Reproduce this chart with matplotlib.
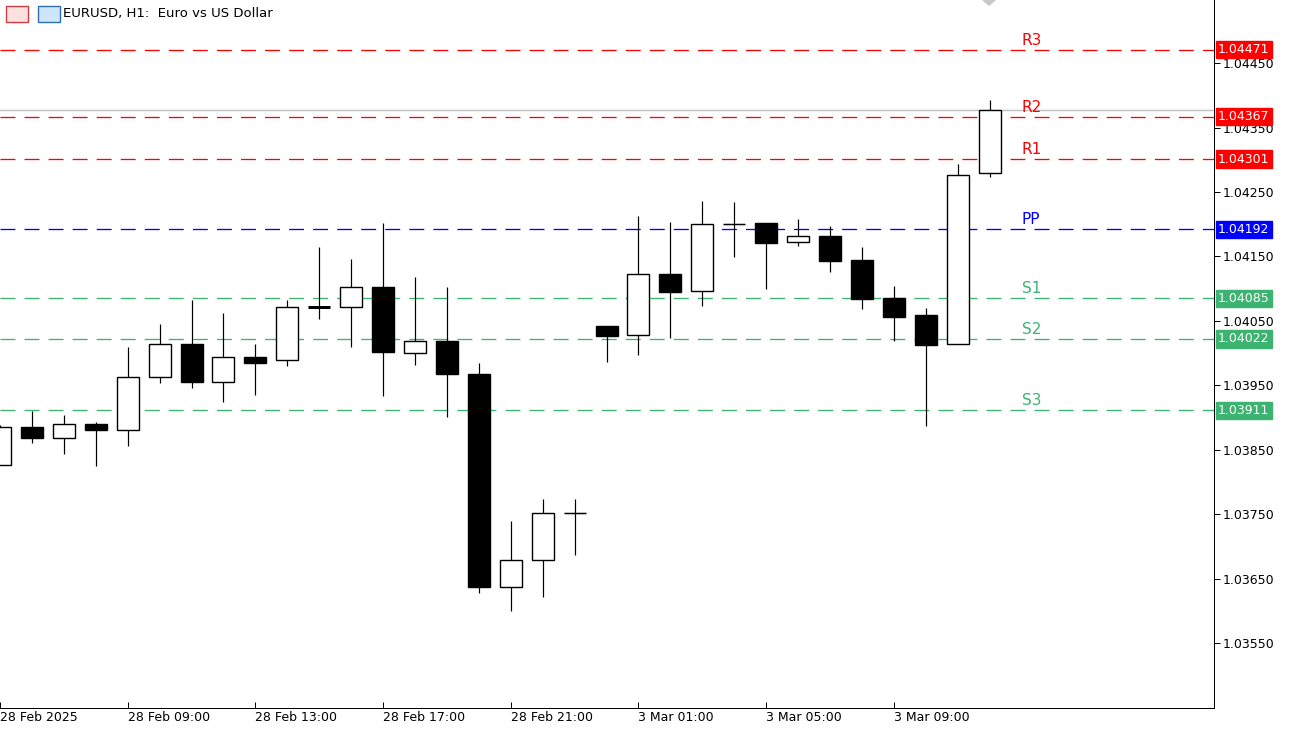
import matplotlib
matplotlib.use("Agg")
import matplotlib.pyplot as plt
from matplotlib.patches import Rectangle, Polygon

# EURUSD H1 candles, 28 Feb 05:00 .. 3 Mar 10:00
opens = [1.03826, 1.03885, 1.03868, 1.03890, 1.03880, 1.03963, 1.04014, 1.03955,
         1.03994, 1.03989, 1.04071, 1.04071, 1.04102, 1.04000, 1.04019, 1.03967,
         1.03637, 1.03679, 1.03752, 1.04042, 1.04028, 1.04123, 1.04096, 1.04200,
         1.04202, 1.04172, 1.04182, 1.04144, 1.04085, 1.04059, 1.04014, 1.04279]
highs = [1.03888, 1.03910, 1.03904, 1.03893, 1.04009, 1.04045, 1.04082, 1.04062,
         1.04014, 1.04082, 1.04164, 1.04146, 1.04202, 1.04118, 1.04102, 1.03984,
         1.03739, 1.03773, 1.03773, 1.04042, 1.04213, 1.04203, 1.04236, 1.04234,
         1.04202, 1.04208, 1.04197, 1.04164, 1.04104, 1.04070, 1.04293, 1.04393]
lows = [1.03826, 1.03860, 1.03843, 1.03825, 1.03856, 1.03953, 1.03946, 1.03924,
        1.03935, 1.03980, 1.04053, 1.04009, 1.03933, 1.03981, 1.03901, 1.03627,
        1.03599, 1.03621, 1.03686, 1.03986, 1.03997, 1.04023, 1.04073, 1.04149,
        1.04099, 1.04166, 1.04126, 1.04068, 1.04019, 1.03887, 1.04014, 1.04274]
closes = [1.03885, 1.03868, 1.03890, 1.03880, 1.03963, 1.04014, 1.03955, 1.03994,
          1.03984, 1.04071, 1.04070, 1.04102, 1.04001, 1.04019, 1.03967, 1.03637,
          1.03679, 1.03752, 1.03752, 1.04026, 1.04123, 1.04095, 1.04200, 1.04200,
          1.04171, 1.04182, 1.04143, 1.04084, 1.04056, 1.04012, 1.04276, 1.04377]

level_names = ["R3", "R2", "R1", "PP", "S1", "S2", "S3"]
level_values = [1.04471, 1.04367, 1.04301, 1.04192, 1.04085, 1.04022, 1.03911]
level_colors = ["#ff0000", "#ff0000", "#ff0000", "#0000ff", "#3cb371", "#3cb371", "#3cb371"]

time_ticks = [0, 4, 8, 12, 16, 20, 24, 28]
time_labels = ["28 Feb 2025", "28 Feb 09:00", "28 Feb 13:00", "28 Feb 17:00",
               "28 Feb 21:00", "3 Mar 01:00", "3 Mar 05:00", "3 Mar 09:00"]
price_ticks = [1.03550, 1.03650, 1.03750, 1.03850, 1.03950, 1.04050,
               1.04150, 1.04250, 1.04350, 1.04450]

W, H = 1293, 729
fig = plt.figure(figsize=(W / 100, H / 100), dpi=100)
ax = fig.add_axes([0, 1 - 708 / H, 1214 / W, 708 / H])
ax.set_xlim(0.094, 38.03)
ax.set_ylim(1.03449, 1.04548)
px = 1 / 1.389  # 1 pixel in points

# current price line
ax.axhline(closes[-1], color="#c0c0c0", lw=1.4 * px, zorder=1)

# pivot levels
for name, v, c in zip(level_names, level_values, level_colors):
    ax.axhline(v, color=c, lw=1.3 * px, dashes=(11.5, 7), zorder=1)
    ax.text(32.0, v + 0.00003, name, color=c, fontsize=11, va="bottom", ha="left")

bw = 0.69
for i, (o, h, l, c) in enumerate(zip(opens, highs, lows, closes)):
    ax.plot([i, i], [l, h], color="black", lw=1.2 * px, zorder=2, solid_capstyle="butt")
    lo, hi = min(o, c), max(o, c)
    if hi - lo < 0.000015:
        ax.plot([i - bw / 2, i + bw / 2], [o, o], color="black",
                lw=(3 if c < o else 1.5) * px, zorder=3, solid_capstyle="butt")
        continue
    face = "white" if c >= o else "black"
    ax.add_patch(Rectangle((i - bw / 2, lo), bw, hi - lo, facecolor=face,
                           edgecolor="black", lw=1.4 * px, zorder=3))

for s in ["top", "left"]:
    ax.spines[s].set_visible(False)
for s in ["right", "bottom"]:
    ax.spines[s].set_linewidth(px)
ax.yaxis.tick_right()
ax.set_yticks(price_ticks)
ax.set_yticklabels([f"{p:.5f}" for p in price_ticks], fontsize=9)
ax.set_xticks(time_ticks)
ax.set_xticklabels(time_labels, fontsize=9, ha="left")
ax.tick_params(axis="y", length=4, width=px, pad=2)
ax.tick_params(axis="x", length=4, width=px, pad=2, direction="in")

# price tags on the right axis
for v, c in zip(level_values, level_colors):
    ax.annotate(f"{v:.5f}", xy=(1, v), xycoords=("axes fraction", "data"),
                xytext=(3, 0), textcoords="offset points", va="center", ha="left",
                fontsize=9, color="white", annotation_clip=False,
                bbox=dict(boxstyle="square,pad=0.18", fc=c, ec=c))

# header
fig.text(63 / W, 1 - 14 / H, "EURUSD, H1:  Euro vs US Dollar", fontsize=9.5, va="center")
fig.patches.append(Rectangle((6 / W, 1 - 22 / H), 22 / W, 16 / H, transform=fig.transFigure,
                             fc="#fde0e0", ec="#d04040", lw=1))
fig.patches.append(Rectangle((38 / W, 1 - 22 / H), 22 / W, 16 / H, transform=fig.transFigure,
                             fc="#cfe6fa", ec="#3070b0", lw=1))
fig.patches.append(Polygon([(982 / W, 1), (996 / W, 1), (989 / W, 1 - 6 / H)],
                           transform=fig.transFigure, fc="#c8c8c8", ec="none"))

fig.savefig("out.png", dpi=100)
